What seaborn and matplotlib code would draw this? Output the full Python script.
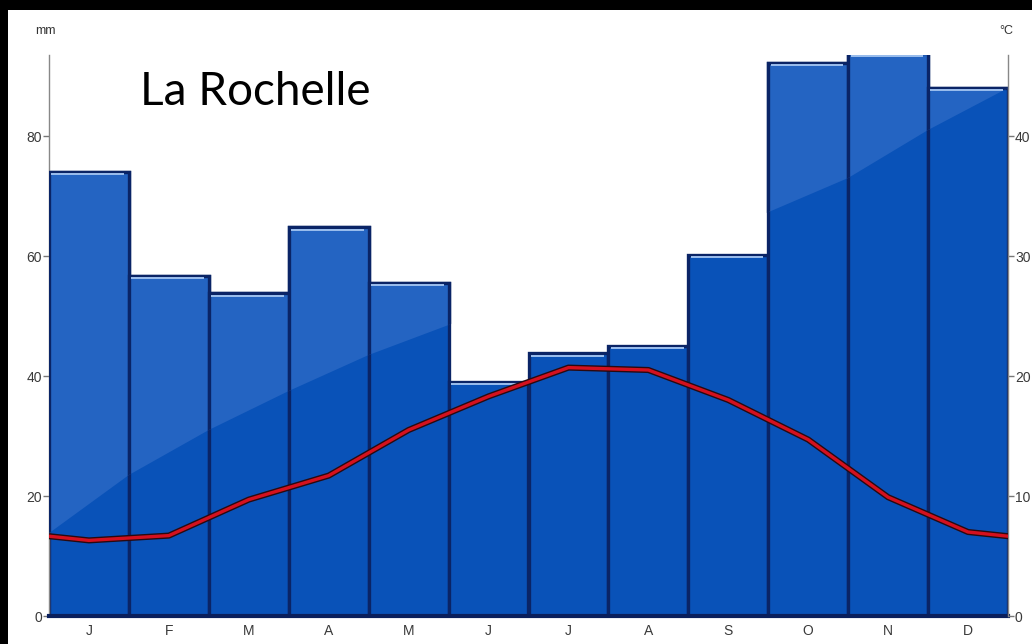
import numpy as np
import pandas as pd
import seaborn as sns
import matplotlib.pyplot as plt
from matplotlib.patches import Rectangle, Polygon

months = ['J', 'F', 'M', 'A', 'M', 'J', 'J', 'A', 'S', 'O', 'N', 'D']
precip_mm = [74, 56.7, 53.8, 64.8, 55.5, 39, 43.8, 45, 60.2, 92.2, 93.8, 88]
temp_c = [6.3, 6.7, 9.7, 11.7, 15.5, 18.3, 20.7, 20.5, 18.0, 14.7, 9.9, 7.0]

df = pd.DataFrame({'pos': np.arange(12), 'mm': precip_mm, 'temp': temp_c})

sns.set_theme(style='white')
plt.rcParams['font.family'] = ['Liberation Sans', 'DejaVu Sans']

fig = plt.figure(figsize=(10.32, 6.44), dpi=100)
fig.patch.set_facecolor('white')
ax = fig.add_axes([49 / 1032, 28 / 644, 959 / 1032, 561 / 644])

base_blue = '#0952b8'
gloss_blue = '#2464c2'
edge_navy = '#0a2466'

sns.barplot(data=df, x='pos', y='mm', color=base_blue, width=1.0,
            saturation=1, edgecolor=edge_navy, linewidth=2.4, ax=ax, zorder=2)
n_base = len(ax.patches)

# glossy lighter upper-left region, clipped to the bars
gloss = Polygon([(-0.5, 13.8), (0.5, 23.5), (1.5, 31), (2.5, 37.5), (3.5, 43.5),
                 (4.5, 48.5), (5.5, 53.5), (6.5, 58), (7.5, 62.5), (8.5, 67.3),
                 (9.5, 73), (10.5, 81), (11.5, 88), (11.5, 120), (-0.5, 120)],
                closed=True, transform=ax.transData, facecolor='none', edgecolor='none')
sns.barplot(data=df, x='pos', y='mm', color=gloss_blue, width=1.0,
            saturation=1, edgecolor=edge_navy, linewidth=2.4, ax=ax, zorder=3)
for p in ax.patches[n_base:]:
    p.set_clip_path(gloss)

# light highlight on the top of each bar
ax.hlines(df['mm'] - 0.4, df['pos'] - 0.47, df['pos'] + 0.44,
          color='#9cbfee', lw=1.4, zorder=4)

ax.set_xlim(-0.5, 11.5)
ax.set_ylim(0, 93.5)
ax.set_yticks([0, 20, 40, 60, 80])
ax.set_xticks(np.arange(12))
ax.set_xticklabels(months)
ax.set_xlabel('')
ax.set_ylabel('')
ax.tick_params(axis='y', direction='out', length=4, width=1, color='#777777',
               labelsize=10, labelcolor='#3a3a3a', pad=1, left=True)
ax.tick_params(axis='x', length=0, labelsize=10, labelcolor='#3a3a3a', pad=6)
for s in ['top', 'right']:
    ax.spines[s].set_visible(False)
ax.spines['left'].set_color('#888888')
ax.spines['left'].set_linewidth(1)
ax.spines['bottom'].set_color('#0a1f5c')
ax.spines['bottom'].set_linewidth(3)
ax.spines['bottom'].set_zorder(6)

ax2 = ax.twinx()
ax2.set_ylim(0, 93.5 / 2)
ax2.set_yticks([0, 10, 20, 30, 40])
ax2.tick_params(axis='y', direction='out', length=4, width=1, color='#777777',
                labelsize=10, labelcolor='#3a3a3a', pad=1, right=True)
for s in ['top', 'left', 'bottom']:
    ax2.spines[s].set_visible(False)
ax2.spines['right'].set_color('#888888')
ax2.spines['right'].set_linewidth(1)

# temperature curve, wrapped around the year so it reaches both edges
tx = np.concatenate([[-1], df['pos'], [12]])
ty = np.concatenate([[temp_c[-1]], temp_c, [temp_c[0]]])
sns.lineplot(x=tx, y=ty, ax=ax2, color='#2a0a10', lw=4.4, sort=False, zorder=5)
sns.lineplot(x=tx, y=ty, ax=ax2, color='#d4111e', lw=2.4, sort=False, zorder=6)
ax2.set_xlim(-0.5, 11.5)
ax2.set_ylabel('')

fig.text(45 / 1032, 1 - 31 / 644, 'mm', fontsize=9, color='#333333',
         ha='center', va='center')
fig.text(1006 / 1032, 1 - 31 / 644, '°C', fontsize=9, color='#333333',
         ha='center', va='center')
fig.text(140 / 1032, 1 - 105 / 644, 'La Rochelle', fontsize=33, color='black',
         family=['Lato', 'DejaVu Sans'], ha='left', va='baseline')

# black frame on the top and left edges
fig.patches.append(Rectangle((0, 1 - 10 / 644), 1, 10 / 644, transform=fig.transFigure,
                             facecolor='black', edgecolor='none', zorder=10))
fig.patches.append(Rectangle((0, 0), 8 / 1032, 1, transform=fig.transFigure,
                             facecolor='black', edgecolor='none', zorder=10))

fig.savefig('out.png', dpi=100)
